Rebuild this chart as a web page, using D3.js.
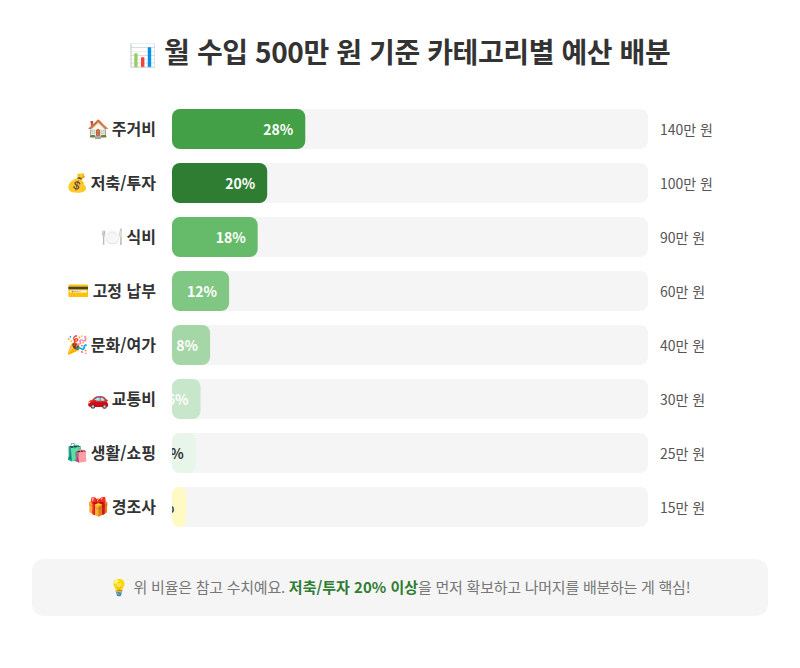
<!DOCTYPE html>
<html lang="ko"><head><meta charset="utf-8">
<script src="https://cdn.jsdelivr.net/npm/d3@7/dist/d3.min.js"></script>
<style>html,body{margin:0;padding:0;background:#fff}svg{display:block}
text{font-family:"Noto Sans CJK KR","Noto Sans KR","Noto Color Emoji",sans-serif}</style>
</head><body><div id="chart"></div>
<script>
const titleIcon = "📊";
const titleText = " 월 수입 500만 원 기준 카테고리별 예산 배분";
const icons = ["🏠","💰","🍽️","💳","🎉","🚗","🛍️","🎁"];
const categories = ["주거비","저축/투자","식비","고정 납부","문화/여가","교통비","생활/쇼핑","경조사"];
const percents = [28,20,18,12,8,6,5,3];
const amounts = ["140만 원","100만 원","90만 원","60만 원","40만 원","30만 원","25만 원","15만 원"];
const barColors = ["#43a047","#2e7d32","#66bb6a","#81c784","#a5d6a7","#c8e6c9","#e8f5e9","#fff9c4"];
const pctColors = ["#fff","#fff","#fff","#fff","#fff","#fff","#333","#333"];
const noteIcon = "💡";
const noteParts = [[" 위 비율은 참고 수치예요. ",0],["저축/투자 20% 이상",1],["을 먼저 확보하고 나머지를 배분하는 게 핵심!",0]];

const svg = d3.select("#chart").append("svg").attr("width",800).attr("height",668);
const x = d3.scaleLinear().domain([0,100]).range([172,648]);
const y = d3.scaleBand().domain(categories).range([109,527]).paddingInner(14/54);

const title = svg.append("text").attr("x",400).attr("y",63).attr("text-anchor","middle")
  .attr("font-size",28).attr("font-weight",700).attr("fill","#333").attr("letter-spacing",-0.4);
title.append("tspan").attr("font-size",22).text(titleIcon);
title.append("tspan").text(titleText);

const defs = svg.append("defs");
categories.forEach((c,i)=>{
  defs.append("clipPath").attr("id","clip"+i).append("rect")
    .attr("x",x(0)).attr("y",y(c)).attr("width",x(percents[i])-x(0)).attr("height",y.bandwidth()).attr("rx",8);
});
const row = svg.selectAll("g.row").data(categories).join("g").attr("class","row");
row.append("rect").attr("x",x(0)).attr("y",d=>y(d)).attr("width",x(100)-x(0)).attr("height",y.bandwidth()).attr("rx",8).attr("fill","#f5f5f5");
row.append("rect").attr("x",x(0)).attr("y",d=>y(d)).attr("width",(d,i)=>x(percents[i])-x(0)).attr("height",y.bandwidth()).attr("rx",8).attr("fill",(d,i)=>barColors[i]);
const lab = row.append("text").attr("x",156).attr("y",d=>y(d)+y.bandwidth()/2+5.5).attr("text-anchor","end")
  .attr("font-size",16).attr("font-weight",700).attr("fill","#333");
lab.append("tspan").attr("font-size",18).text((d,i)=>icons[i]);
lab.append("tspan").attr("dx",-2).text(d=>" "+d);
row.append("g").attr("clip-path",(d,i)=>`url(#clip${i})`).append("text")
  .attr("x",(d,i)=>x(percents[i])-12).attr("y",d=>y(d)+y.bandwidth()/2+5.5).attr("text-anchor","end")
  .attr("font-size",14).attr("font-weight",700).attr("fill",(d,i)=>pctColors[i]).text((d,i)=>percents[i]+"%");
row.append("text").attr("x",660).attr("y",d=>y(d)+y.bandwidth()/2+5.5).attr("font-size",14).attr("fill","#555").text((d,i)=>amounts[i]);

svg.append("rect").attr("x",32).attr("y",559).attr("width",736).attr("height",57).attr("rx",12).attr("fill","#f5f5f5");
const note = svg.append("text").attr("x",400).attr("y",593).attr("text-anchor","middle").attr("font-size",15).attr("fill","#777");
note.append("tspan").attr("font-size",16).text(noteIcon);
note.selectAll("tspan.p").data(noteParts).join("tspan").attr("class","p")
  .attr("letter-spacing",d=>d[1]?0:-0.25)
  .attr("font-weight",d=>d[1]?700:400).attr("fill",d=>d[1]?"#2e7d32":"#777").text(d=>d[0]);
</script></body></html>
